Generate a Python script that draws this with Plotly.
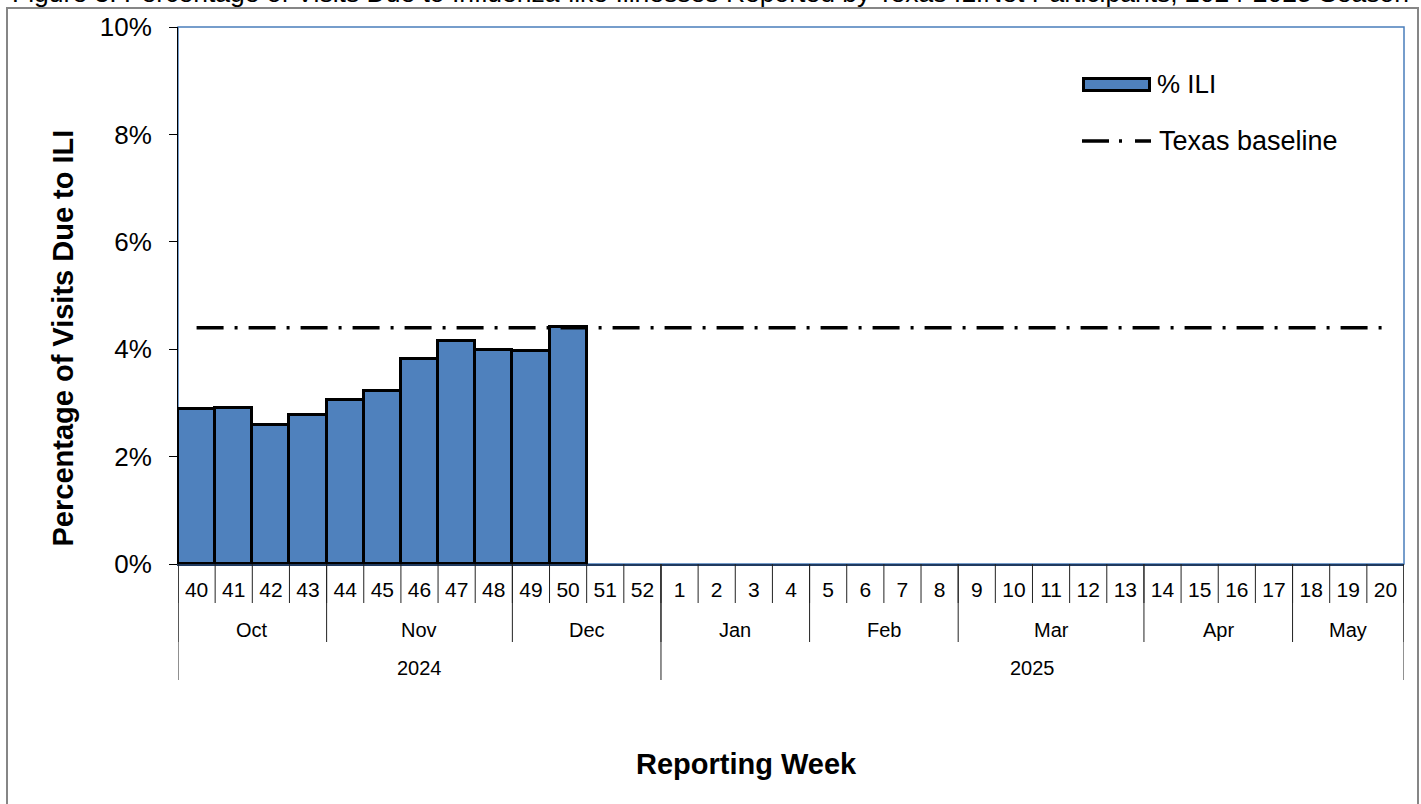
import plotly.graph_objects as go

# ---------------- data ----------------
weeks = ["40", "41", "42", "43", "44", "45", "46", "47", "48", "49", "50", "51", "52",
         "1", "2", "3", "4", "5", "6", "7", "8", "9", "10", "11", "12", "13",
         "14", "15", "16", "17", "18", "19", "20"]
pct_ili = [2.89, 2.91, 2.58, 2.77, 3.05, 3.22, 3.81, 4.16, 3.98, 3.97, 4.41,
           None, None, None, None, None, None, None, None, None, None, None,
           None, None, None, None, None, None, None, None, None, None, None]
texas_baseline = 4.40
months = ["Oct", "Nov", "Dec", "Jan", "Feb", "Mar", "Apr", "May"]
month_weeks = [4, 5, 4, 4, 4, 5, 4, 3]
years = ["2024", "2025"]
year_weeks = [13, 20]

# ---------------- layout geometry (pixels) ----------------
W, H = 1421, 804
PL, PR, PT, PB = 178, 1404, 27, 564
FONT = "Liberation Sans, Arial, sans-serif"


def px_x(p):
    return (p - PL) / (PR - PL)


def px_y(p):
    return (PB - p) / (PB - PT)


fig = go.Figure()
fig.add_trace(go.Bar(
    x=weeks, y=pct_ili, name="% ILI",
    marker=dict(color="#4F81BD", line=dict(color="black", width=3)),
    showlegend=False,
))
fig.add_trace(go.Scatter(
    x=weeks, y=[texas_baseline] * len(weeks), name="Texas baseline",
    mode="lines", line=dict(color="black", width=3.5, dash="27px,11px,3px,11px"),
    showlegend=False,
))

shapes = []
annotations = []


def ann(**kw):
    base = dict(showarrow=False, xanchor="center", yanchor="middle")
    base.update(kw)
    annotations.append(base)


# outer frame
shapes.append(dict(type="rect", xref="paper", yref="paper",
                   x0=px_x(7), x1=px_x(1418), y0=px_y(8), y1=px_y(806),
                   line=dict(color="#868686", width=2), layer="below"))
# plot area border
shapes.append(dict(type="rect", xref="paper", yref="paper",
                   x0=0, x1=1, y0=0, y1=1,
                   line=dict(color="#4A7EBB", width=1.5), layer="below"))

# category separators
n = len(weeks)
for i in range(n + 1):
    shapes.append(dict(type="line", xref="x", yref="paper",
                       x0=i - 0.5, x1=i - 0.5, y0=0, y1=px_y(603),
                       line=dict(color="#222222", width=1)))
pos = 0
bounds = [0]
for m, c in zip(months, month_weeks):
    ann(x=pos + (c - 1) / 2, y=px_y(630), xref="x", yref="paper",
        text=m, font=dict(size=20, color="black", family=FONT))
    pos += c
    bounds.append(pos)
for b in bounds:
    shapes.append(dict(type="line", xref="x", yref="paper",
                       x0=b - 0.5, x1=b - 0.5, y0=0, y1=px_y(642),
                       line=dict(color="#222222", width=1)))
pos = 0
ybounds = [0]
for yv, c in zip(years, year_weeks):
    ann(x=pos + (c - 1) / 2, y=px_y(668), xref="x", yref="paper",
        text=yv, font=dict(size=20, color="black", family=FONT))
    pos += c
    ybounds.append(pos)
for b in ybounds:
    shapes.append(dict(type="line", xref="x", yref="paper",
                       x0=b - 0.5, x1=b - 0.5, y0=0, y1=px_y(680),
                       line=dict(color="#222222", width=1)))

# custom legend
shapes.append(dict(type="rect", xref="paper", yref="paper",
                   x0=px_x(1083.5), x1=px_x(1149.5), y0=px_y(90.5), y1=px_y(78.5),
                   fillcolor="#4F81BD", line=dict(color="black", width=3)))
shapes.append(dict(type="line", xref="paper", yref="paper",
                   x0=px_x(1082), x1=px_x(1151), y0=px_y(141), y1=px_y(141),
                   line=dict(color="black", width=3.5, dash="27px,10px,3px,13px")))
ann(x=px_x(1155), y=px_y(84), xref="paper", yref="paper", xanchor="left",
    text="% ILI", font=dict(size=26, color="black", family=FONT))
ann(x=px_x(1157), y=px_y(141), xref="paper", yref="paper", xanchor="left",
    text="Texas baseline", font=dict(size=27, color="black", family=FONT))

# titles
ann(x=px_x(710.5), y=px_y(-7.5), xref="paper", yref="paper",
    text="Figure 3: Percentage of Visits Due to Influenza-like Illnesses Reported by Texas ILINet Participants, 2024-2025 Season",
    font=dict(size=26.5, color="black", family=FONT))
ann(x=px_x(62.5), y=px_y(338), xref="paper", yref="paper", textangle=-90,
    text="<b>Percentage of Visits Due to ILI</b>",
    font=dict(size=29, color="black", family=FONT))
ann(x=px_x(746), y=px_y(764), xref="paper", yref="paper",
    text="<b>Reporting Week</b>",
    font=dict(size=29, color="black", family=FONT))

fig.update_layout(
    width=W, height=H,
    margin=dict(l=PL, r=W - PR, t=PT, b=H - PB, pad=0),
    paper_bgcolor="white", plot_bgcolor="white",
    bargap=0,
    showlegend=False,
    font=dict(family=FONT, color="black"),
    shapes=shapes, annotations=annotations,
    xaxis=dict(type="category", categoryorder="array", categoryarray=weeks,
               range=[-0.5, n - 0.5], showgrid=False, zeroline=False,
               showline=True, linecolor="#1F3A60", linewidth=2,
               ticks="", ticklabelstandoff=6,
               tickfont=dict(size=21, color="black", family=FONT)),
    yaxis=dict(range=[0, 10], tick0=0, dtick=2, ticksuffix="%", showgrid=False,
               zeroline=False, showline=True, linecolor="black", linewidth=1,
               ticks="outside", ticklen=8, tickcolor="black", ticklabelstandoff=12,
               tickfont=dict(size=26, color="black", family=FONT)),
)

fig.write_html("out.html", config={"displayModeBar": False},
               post_script="document.body.style.margin='0';document.body.style.overflow='hidden';")
